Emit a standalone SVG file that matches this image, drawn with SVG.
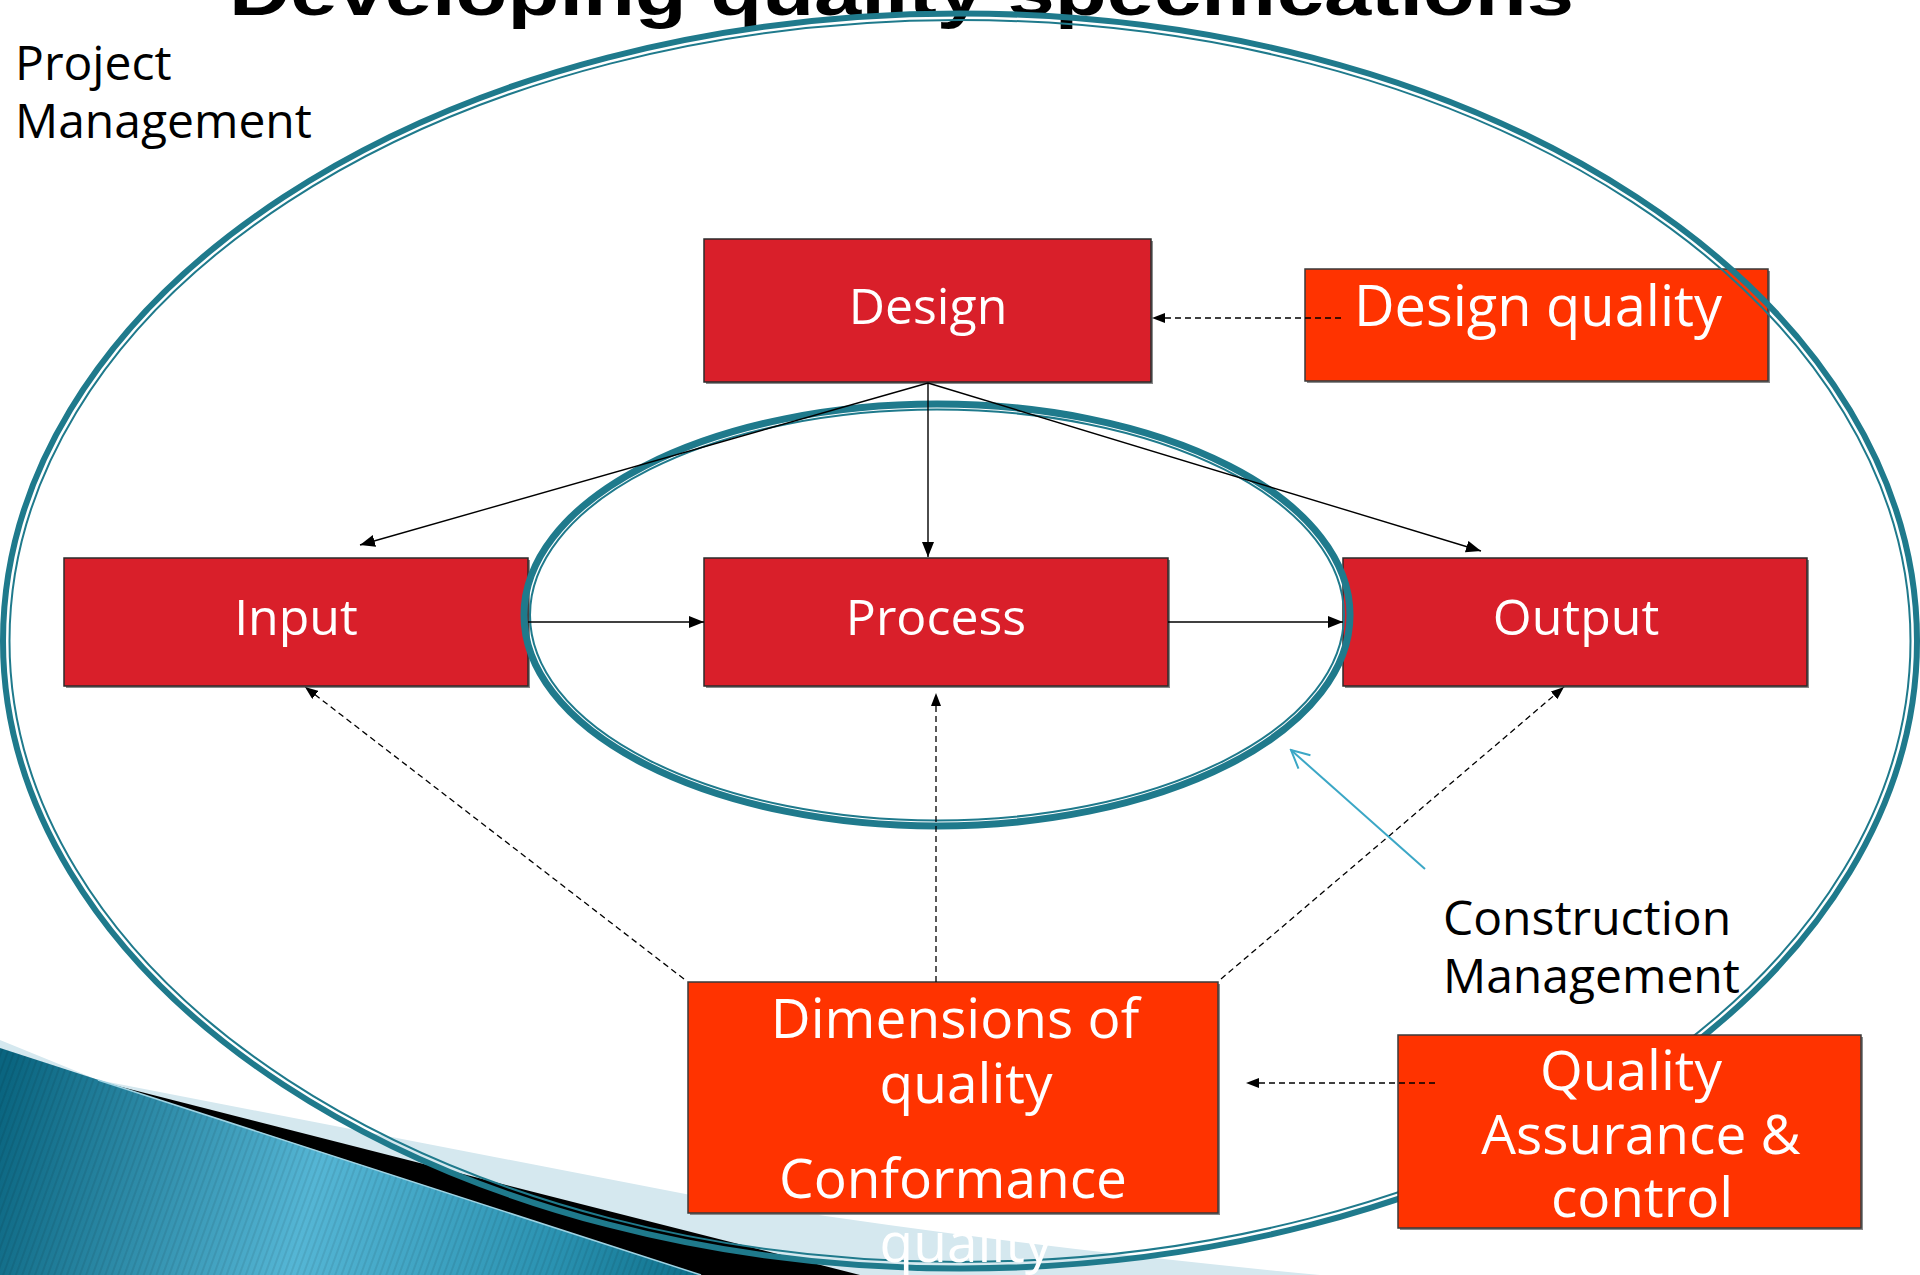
<svg xmlns="http://www.w3.org/2000/svg" width="1920" height="1275" viewBox="0 0 1920 1275">
<style>
  .box-red { fill: #D91F2A; stroke: #2b2b2b; stroke-width: 1.5; }
  .box-org { fill: #FF3300; stroke: #3a3a3a; stroke-width: 1.5; }
  .shadow { fill: #8a8a8a; }
  .btxt { font-family: "Open Sans", "DejaVu Sans", sans-serif; fill: #ffffff; text-anchor: middle; }
  .lbl { font-family: "Open Sans", "DejaVu Sans", sans-serif; fill: #000000; font-size: 48px; }
  .conn { stroke: #000; stroke-width: 1.4; fill: none; }
  .dash { stroke: #000; stroke-width: 1.3; fill: none; stroke-dasharray: 6 4; }
  .ring { fill: none; stroke: #1F7A8C; }
</style>
<defs>
  <marker id="arr" markerUnits="userSpaceOnUse" markerWidth="16" markerHeight="12" refX="15" refY="6" orient="auto">
    <path d="M0,0 L15,6 L0,12 Z" fill="#000"/>
  </marker>
  <marker id="arrs" markerUnits="userSpaceOnUse" markerWidth="14" markerHeight="10" refX="13" refY="5" orient="auto">
    <path d="M0,0 L13,5 L0,10 Z" fill="#000"/>
  </marker>
  <marker id="open" markerUnits="userSpaceOnUse" markerWidth="22" markerHeight="22" refX="20" refY="11" orient="auto">
    <path d="M2,2 L20,11 L2,20" fill="none" stroke="#3BA7C6" stroke-width="2"/>
  </marker>
  <linearGradient id="teal" gradientUnits="userSpaceOnUse" x1="0" y1="1100" x2="700" y2="1275">
    <stop offset="0" stop-color="#0a6580"/>
    <stop offset="0.45" stop-color="#55b6d5"/>
    <stop offset="0.8" stop-color="#2a92b1"/>
    <stop offset="1" stop-color="#0d6f8a"/>
  </linearGradient>
  <pattern id="stripes" patternUnits="userSpaceOnUse" width="6" height="6" patternTransform="rotate(20)">
    <rect width="2" height="6" fill="#000" fill-opacity="0.08"/>
  </pattern>
</defs>

<g id="decoration">
  <path d="M0,1040 L98,1080 L701,1197 Q1000,1245 1320,1275 L0,1275 Z" fill="#D5E8EF"/>
  <path d="M98,1081 L860,1275 L701,1275 Z" fill="#000"/>
  <path d="M0,1048 L701,1275 L0,1275 Z" fill="url(#teal)"/>
  <path d="M0,1048 L701,1275 L0,1275 Z" fill="url(#stripes)"/>
  <path d="M98,1080 L701,1275" stroke="#9fd3e3" stroke-width="1.5" fill="none"/>
</g>

<g id="title">
  <text x="229" y="15" font-family="Liberation Sans, Arial, sans-serif" font-weight="bold" font-size="66" textLength="1345" lengthAdjust="spacingAndGlyphs">Developing quality specifications</text>
</g>

<g id="node-input">
  <rect class="shadow" x="66" y="560" width="464" height="128"/>
  <rect class="box-red" x="64" y="558" width="464" height="128"/>
  <text class="btxt" x="296" y="635" font-size="50">Input</text>
</g>
<g id="node-process">
  <rect class="shadow" x="706" y="560" width="464" height="128"/>
  <rect class="box-red" x="704" y="558" width="464" height="128"/>
  <text class="btxt" x="936" y="635" font-size="50">Process</text>
</g>
<g id="node-output">
  <rect class="shadow" x="1345" y="560" width="464" height="128"/>
  <rect class="box-red" x="1343" y="558" width="464" height="128"/>
  <text class="btxt" x="1576" y="635" font-size="50">Output</text>
</g>
<g id="node-design">
  <rect class="shadow" x="706" y="241" width="447" height="143"/>
  <rect class="box-red" x="704" y="239" width="447" height="143"/>
  <text class="btxt" x="928" y="324" font-size="50">Design</text>
</g>
<g id="node-design-quality">
  <rect class="shadow" x="1307" y="271" width="463" height="112"/>
  <rect class="box-org" x="1305" y="269" width="463" height="112"/>
  <text class="btxt" x="1538" y="326" font-size="56">Design quality</text>
</g>

<g id="rings">
  <ellipse class="ring" cx="960" cy="641" rx="957" ry="627.5" stroke-width="6"/>
  <ellipse class="ring" cx="960" cy="641" rx="950.5" ry="621" stroke-width="2"/>
  <ellipse class="ring" cx="937" cy="615" rx="413" ry="211" stroke-width="7"/>
  <ellipse class="ring" cx="937" cy="615" rx="407" ry="205.5" stroke-width="2"/>
</g>

<g id="node-dimensions">
  <rect class="shadow" x="690" y="984" width="530" height="231"/>
  <rect class="box-org" x="688" y="982" width="530" height="231"/>
  <text class="btxt" x="955" y="1038" font-size="55">Dimensions of</text>
  <text class="btxt" x="966" y="1103" font-size="55">quality</text>
  <text class="btxt" x="953" y="1198" font-size="55">Conformance</text>
  <text class="btxt" x="966" y="1262" font-size="55">quality</text>
</g>

<g id="node-qa">
  <rect class="shadow" x="1400" y="1037" width="463" height="193"/>
  <rect class="box-org" x="1398" y="1035" width="463" height="193"/>
  <text class="btxt" x="1631" y="1090" font-size="55">Quality</text>
  <text class="btxt" x="1641" y="1154" font-size="55">Assurance &amp;</text>
  <text class="btxt" x="1642" y="1217" font-size="55">control</text>
</g>

<g id="connectors">
  <line class="conn" x1="928" y1="383" x2="360" y2="545" marker-end="url(#arr)"/>
  <line class="conn" x1="928" y1="383" x2="928" y2="557" stroke="#444" marker-end="url(#arr)"/>
  <line class="conn" x1="928" y1="383" x2="1481" y2="551" marker-end="url(#arr)"/>
  <line class="conn" x1="528" y1="622" x2="704" y2="622" marker-end="url(#arr)"/>
  <line class="conn" x1="1168" y1="622" x2="1343" y2="622" marker-end="url(#arr)"/>
  <line class="dash" x1="684" y1="979" x2="305" y2="687" marker-end="url(#arrs)"/>
  <line class="dash" x1="936" y1="982" x2="936" y2="693" marker-end="url(#arrs)"/>
  <line class="dash" x1="1221" y1="979" x2="1564" y2="687" marker-end="url(#arrs)"/>
  <line class="dash" x1="1341" y1="318" x2="1152" y2="318" marker-end="url(#arrs)"/>
  <line class="dash" x1="1435" y1="1083" x2="1246" y2="1083" marker-end="url(#arrs)"/>
  <line x1="1425" y1="869" x2="1291" y2="750" stroke="#3BA7C6" stroke-width="2" marker-end="url(#open)"/>
</g>

<g id="label-project-management">
  <text class="lbl" x="15" y="80">Project</text>
  <text class="lbl" x="15" y="138">Management</text>
</g>
<g id="label-construction-management">
  <text class="lbl" x="1443" y="935">Construction</text>
  <text class="lbl" x="1443" y="993">Management</text>
</g>
</svg>
